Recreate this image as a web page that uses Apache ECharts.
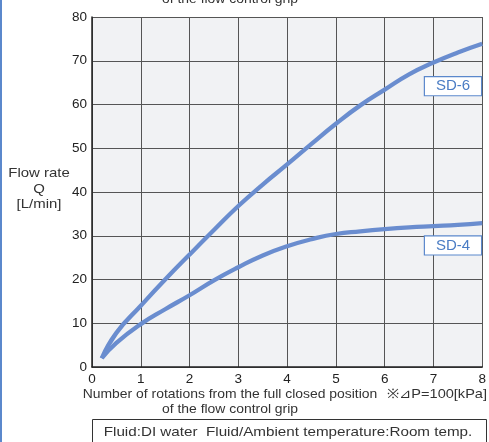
<!DOCTYPE html>
<html><head><meta charset="utf-8">
<script src="https://cdn.jsdelivr.net/npm/echarts@6/dist/echarts.min.js"></script>
<style>html,body{margin:0;padding:0;background:#fff}#c{width:489px;height:442px}</style>
</head><body><div id="c"></div>
<script>
const xTicks = [0,1,2,3,4,5,6,7,8];
const yTicks = [0,10,20,30,40,50,60,70,80];
const sd6X = [0.2,0.5,1,1.5,2,2.5,3,3.5,4,4.5,5,5.5,6,6.5,7,7.5,8];
const sd6Y = [2,7.8,14,20,25.7,31.3,36.8,41.7,46.3,51.0,55.6,59.8,63.4,66.9,69.6,71.9,73.9];
const sd4X = [0.2,0.5,1,1.5,2,2.5,3,3.5,4,4.5,5,5.5,6,6.5,7,7.5,8];
const sd4Y = [2,5.5,9.8,13.2,16.4,19.8,22.8,25.5,27.6,29.2,30.4,31,31.5,31.9,32.2,32.5,32.9];
const seriesNames = ['SD-6','SD-4'];
const labelPos = [[7.40,64.2],[7.40,27.8]];

const font = '"Liberation Sans", Arial, sans-serif';
const lineColor = '#6a8dcf';
const chart = echarts.init(document.getElementById('c'));

function mk(name, xs, ys, lp){
  return {
    type:'line', name, smooth:true, showSymbol:false, symbol:'none',
    data: xs.map((x,i)=>[x,ys[i]]),
    lineStyle:{color:lineColor,width:4.3},
    z:3,
    markPoint:{
      symbol:'rect', symbolSize:1, itemStyle:{color:'transparent'},
      data:[{coord:lp, value:name}],
      label:{show:true, position:'inside', formatter:name, fontFamily:font, fontSize:15,
        color:'#4a7cc4', backgroundColor:'#fff', borderColor:'#5b88cc', borderWidth:1.2,
        width:56, height:18, lineHeight:18, align:'center', padding:[0,0,0,0]}
    }
  };
}

function txt(s, x, y, sx, align){
  return {type:'text', x, y, scaleX:sx, style:{text:s, font:'13px '+font, fill:'#333', textAlign:align||'center', lineHeight:15.5}};
}

chart.setOption({
  animation:false,
  grid:{left:92,right:3,top:17,bottom:75,show:true,backgroundColor:'#f1f2f4',borderWidth:0},
  xAxis:{type:'value',min:0,max:8,interval:1,
    axisLine:{show:true,lineStyle:{color:'#222',width:1.5}},
    axisTick:{show:false},
    axisLabel:{fontFamily:font,fontSize:13.5,color:'#222',margin:5,
      formatter:v=>xTicks.includes(v)?String(v):''},
    splitLine:{show:true,lineStyle:{color:'#555',width:1}}},
  yAxis:{type:'value',min:0,max:80,interval:10,
    axisLine:{show:true,lineStyle:{color:'#222',width:1.5}},
    axisTick:{show:false},
    axisLabel:{fontFamily:font,fontSize:13.5,color:'#222',margin:5,
      formatter:v=>yTicks.includes(v)?String(v):''},
    splitLine:{show:true,lineStyle:{color:'#555',width:1}}},
  series:[mk(seriesNames[0],sd6X,sd6Y,labelPos[0]), mk(seriesNames[1],sd4X,sd4Y,labelPos[1])],
  graphic:[
    {type:'rect',shape:{x:0,y:0,width:2,height:442},style:{fill:'#5b88cc'}},
    txt('of the flow control grip',230,-8,1.07),
    txt('Flow rate\nQ\n[L/min]',39,166,1.15),
    txt('Number of rotations from the full closed position',230,387,1.07),
    txt('of the flow control grip',230,402,1.07),
    txt('※⊿P=100[kPa]',487,387,1.12,'right'),
    {type:'rect',shape:{x:92.5,y:419.5,width:394,height:30},style:{fill:'#fff',stroke:'#333',lineWidth:1}},
    txt('Fluid:DI water  Fluid/Ambient temperature:Room temp.',288,425,1.17)
  ]
});
</script></body></html>
